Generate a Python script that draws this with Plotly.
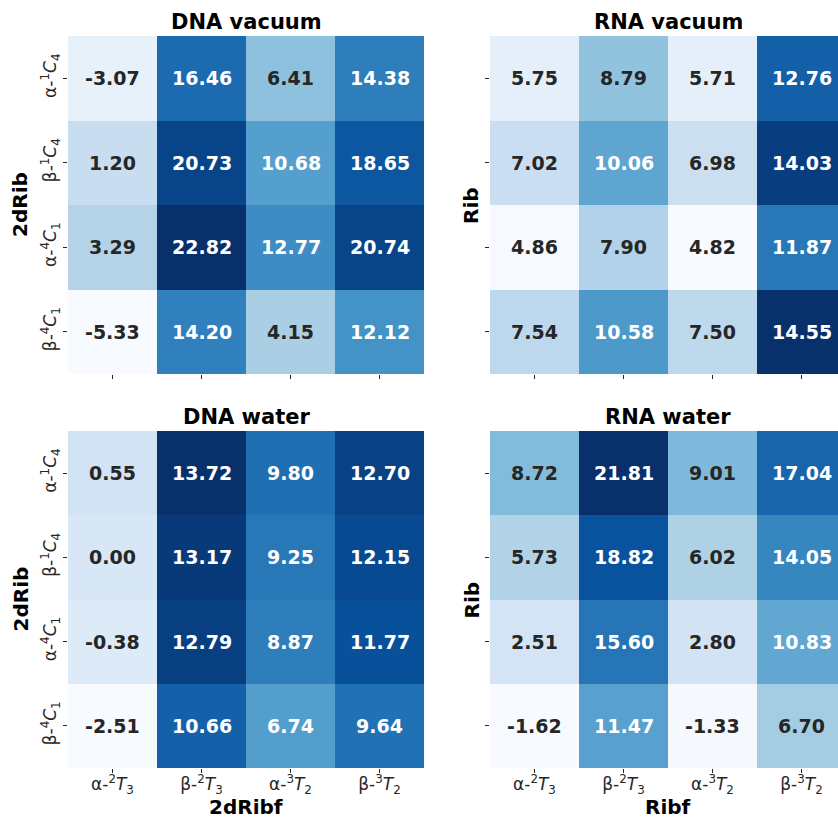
import plotly.graph_objects as go

# Conformer labels (rows: sugar ring puckers, columns: fluorinated sugar puckers)
row_labels = [
    "α-<sup>1</sup><i>C</i><sub>4</sub>",
    "β-<sup>1</sup><i>C</i><sub>4</sub>",
    "α-<sup>4</sup><i>C</i><sub>1</sub>",
    "β-<sup>4</sup><i>C</i><sub>1</sub>",
]
col_labels = [
    "α-<sup>2</sup><i>T</i><sub>3</sub>",
    "β-<sup>2</sup><i>T</i><sub>3</sub>",
    "α-<sup>3</sup><i>T</i><sub>2</sub>",
    "β-<sup>3</sup><i>T</i><sub>2</sub>",
]

dna_vacuum = [
    [-3.07, 16.46, 6.41, 14.38],
    [1.20, 20.73, 10.68, 18.65],
    [3.29, 22.82, 12.77, 20.74],
    [-5.33, 14.20, 4.15, 12.12],
]
rna_vacuum = [
    [5.75, 8.79, 5.71, 12.76],
    [7.02, 10.06, 6.98, 14.03],
    [4.86, 7.90, 4.82, 11.87],
    [7.54, 10.58, 7.50, 14.55],
]
dna_water = [
    [0.55, 13.72, 9.80, 12.70],
    [0.00, 13.17, 9.25, 12.15],
    [-0.38, 12.79, 8.87, 11.77],
    [-2.51, 10.66, 6.74, 9.64],
]
rna_water = [
    [8.72, 21.81, 9.01, 17.04],
    [5.73, 18.82, 6.02, 14.05],
    [2.51, 15.60, 2.80, 10.83],
    [-1.62, 11.47, -1.33, 6.70],
]

blues = ["#f7fbff", "#deebf7", "#c6dbef", "#9ecae1", "#6baed6",
         "#4292c6", "#2171b5", "#08519c", "#08306b"]
colorscale = [[i / (len(blues) - 1), c] for i, c in enumerate(blues)]

W, H = 838, 822
FONT = "DejaVu Sans"
DARK = "#262626"


def hex_rgb(h):
    h = h.lstrip("#")
    return [int(h[i:i + 2], 16) / 255 for i in (0, 2, 4)]


def sample(t):
    t = min(max(t, 0.0), 1.0)
    pos = t * (len(blues) - 1)
    i = min(int(pos), len(blues) - 2)
    f = pos - i
    a, b = hex_rgb(blues[i]), hex_rgb(blues[i + 1])
    return [a[k] + (b[k] - a[k]) * f for k in range(3)]


def luminance(rgb):
    lin = [c / 12.92 if c <= 0.03928 else ((c + 0.055) / 1.055) ** 2.4 for c in rgb]
    return 0.2126 * lin[0] + 0.7152 * lin[1] + 0.0722 * lin[2]


# panel layout in pixels: (left, right, top, bottom), visible x max, y-title offset
panels = [
    ("DNA vacuum", dna_vacuum, (68, 424, 36, 374), 3.5, False, True, "2dRib", None, 48),
    ("RNA vacuum", rna_vacuum, (490, 838, 36, 374), 3.41, False, False, "Rib", None, 19),
    ("DNA water", dna_water, (68, 424, 431, 768), 3.5, True, True, "2dRib", "2dRibf", 48),
    ("RNA water", rna_water, (490, 838, 431, 768), 3.41, True, False, "Rib", "Ribf", 19),
]

fig = go.Figure()
annotations = []
idx = list(range(4))

for n, (title, z, (l, r, t, b), xmax, show_x, show_y, ytitle, xtitle, yoff) in enumerate(panels, start=1):
    xa = "x" if n == 1 else f"x{n}"
    ya = "y" if n == 1 else f"y{n}"
    flat = [v for row in z for v in row]
    zmin, zmax = min(flat), max(flat)
    fig.add_trace(go.Heatmap(
        z=z, x=idx, y=idx, xaxis=xa, yaxis=ya,
        colorscale=colorscale, zmin=zmin, zmax=zmax,
        showscale=False, hoverinfo="skip",
    ))
    for i, row in enumerate(z):
        for j, v in enumerate(row):
            rgb = sample((v - zmin) / (zmax - zmin))
            color = DARK if luminance(rgb) > 0.408 else "white"
            annotations.append(dict(
                x=j, y=i, xref=xa, yref=ya, text=f"{v:.2f}", showarrow=False,
                font=dict(family=FONT, size=19, color=color, weight="bold"),
            ))
    xdom = [l / W, r / W]
    ydom = [1 - b / H, 1 - t / H]
    axis_common = dict(ticks="outside", ticklen=4, tickwidth=1, tickcolor=DARK,
                       showgrid=False, zeroline=False, showline=False,
                       tickfont=dict(family=FONT, size=17, color=DARK))
    fig.layout[f"xaxis{'' if n == 1 else n}"] = dict(
        domain=xdom, anchor=ya, range=[-0.5, xmax], tickvals=idx, ticktext=col_labels,
        showticklabels=show_x, ticklabelstandoff=-3, **axis_common)
    fig.layout[f"yaxis{'' if n == 1 else n}"] = dict(
        domain=ydom, anchor=xa, range=[3.5, -0.5], tickvals=idx, ticktext=row_labels,
        showticklabels=show_y, tickangle=-90, **axis_common)

    # full panel width is 356 px; the right column of panels runs past the page edge
    cx = l + 178
    annotations.append(dict(
        x=cx / W, y=1 - t / H, xref="paper", yref="paper", text=title,
        showarrow=False, xanchor="center", yanchor="bottom",
        font=dict(family=FONT, size=21, color="black", weight="bold")))
    annotations.append(dict(
        x=(l - yoff) / W, y=1 - ((t + b) / 2) / H, xref="paper", yref="paper", text=ytitle,
        showarrow=False, xanchor="center", yanchor="middle", textangle=-90,
        font=dict(family=FONT, size=20, color="black", weight="bold")))
    if xtitle:
        annotations.append(dict(
            x=cx / W, y=1 - 821 / H, xref="paper", yref="paper", text=xtitle,
            showarrow=False, xanchor="center", yanchor="bottom",
            font=dict(family=FONT, size=20, color="black", weight="bold")))

fig.update_layout(
    width=W, height=H, margin=dict(l=0, r=0, t=0, b=0),
    paper_bgcolor="white", plot_bgcolor="white",
    annotations=annotations, showlegend=False,
)

fig.write_html("out.html")
